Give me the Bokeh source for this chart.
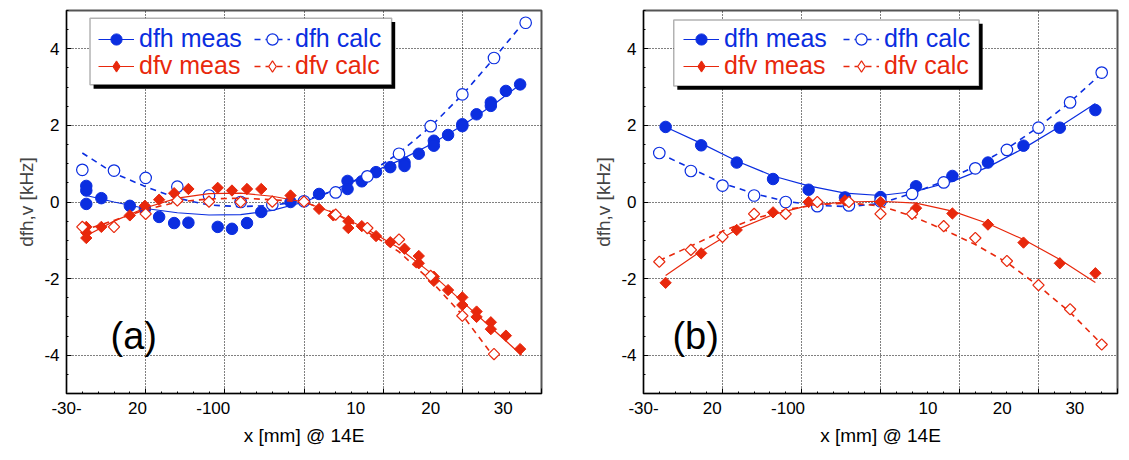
import numpy as np
from bokeh.plotting import figure
from bokeh.models import (Legend, LegendItem, BoxAnnotation, Label, LinearAxis,
                          FixedTicker, SingleIntervalTicker, Range1d, ColumnDataSource)
from bokeh.layouts import row
from bokeh.embed import file_html
from bokeh.resources import INLINE

# ---------------- data ----------------
# panel (a)
a_meas_x = [-27.5, -27.5, -27.5, -25.6, -22.0, -20.1, -18.3, -16.4, -14.6, -10.9, -9.1, -7.2,
            -5.4, -1.7, 1.9, 5.5, 5.5, 7.3, 9.1, 10.9, 12.7, 12.7, 14.5, 16.4, 16.4, 18.2,
            20.0, 20.0, 21.8, 23.6, 23.6, 25.5, 27.3]
a_dfh_meas = [0.42, 0.30, -0.05, 0.10, -0.10, -0.18, -0.39, -0.55, -0.54, -0.65, -0.70, -0.55,
              -0.26, 0.0, 0.21, 0.55, 0.34, 0.54, 0.78, 0.91, 1.03, 0.94, 1.26, 1.60, 1.47, 1.75,
              2.03, 1.98, 2.29, 2.60, 2.51, 2.90, 3.07]
a_dfv_x = [-27.5, -27.5, -27.5, -25.6, -22.0, -20.1, -18.3, -16.4, -14.6, -10.9, -9.1, -7.2,
           -5.4, -1.7, 1.9, 3.7, 5.6, 5.6, 7.3, 9.1, 10.9, 12.7, 14.5, 14.5, 16.4, 16.4, 18.2,
           20.0, 20.0, 21.8, 21.8, 23.6, 23.6, 25.5, 27.3]
a_dfv_meas = [-0.65, -0.80, -0.94, -0.65, -0.35, -0.10, 0.06, 0.23, 0.34, 0.37, 0.30, 0.34,
              0.34, 0.17, -0.18, -0.35, -0.50, -0.68, -0.63, -0.89, -1.05, -1.22, -1.41, -1.60,
              -1.95, -2.06, -2.30, -2.49, -2.69, -2.86, -3.00, -3.14, -3.32, -3.49, -3.84]
a_calc_x = [-28, -24, -20, -16, -12, -8, -4, 0, 4, 8, 12, 16, 20, 24, 28]
a_dfh_calc = [0.84, 0.82, 0.63, 0.40, 0.17, 0.0, -0.07, 0.02, 0.25, 0.67, 1.26, 1.98, 2.81, 3.76, 4.68]
a_dfv_calc_x = [-28, -24, -20, -16, -12, -8, -4, 0, 4, 8, 12, 16, 20, 24]
a_dfv_calc = [-0.65, -0.65, -0.31, 0.04, 0.01, 0.0, 0.01, 0.01, -0.33, -0.68, -0.98, -1.93, -2.97, -3.97]

# fitted curves, panel (a)
a_fit_meas_x = [-27.5, -24, -20, -16, -12, -8, -4, 0, 4, 8, 12, 16, 20, 24, 27.5]
a_fit_dfh_meas = [0.17, 0.0, -0.17, -0.28, -0.34, -0.33, -0.22, 0.0, 0.33, 0.72, 1.08, 1.5, 2.0, 2.55, 3.1]
a_fit_dfv_meas = [-0.88, -0.5, -0.15, 0.1, 0.22, 0.23, 0.15, 0.0, -0.3, -0.72, -1.2, -1.85, -2.6, -3.35, -4.0]
a_fit_dfh_calc_x = [-28, -24, -20, -16, -12, -8, -4, 0, 4, 8, 12, 16, 20, 24, 28]
a_fit_dfh_calc = [1.28, 0.75, 0.4, 0.1, -0.08, -0.12, -0.09, 0.04, 0.3, 0.72, 1.28, 1.97, 2.8, 3.75, 4.75]
a_fit_dfv_calc_x = [-28, -24, -20, -16, -12, -8, -4, 0, 4, 8, 12, 16, 20, 24]
a_fit_dfv_calc = [-0.75, -0.48, -0.2, 0.0, 0.08, 0.1, 0.06, 0.0, -0.3, -0.78, -1.3, -2.05, -2.95, -4.05]

# panel (b)
b_meas_x = [-27.2, -22.7, -18.2, -13.6, -9.1, -4.5, 0.0, 4.5, 9.1, 13.6, 18.1, 22.7, 27.2]
b_dfh_meas = [1.96, 1.48, 1.03, 0.60, 0.32, 0.12, 0.13, 0.41, 0.68, 1.03, 1.47, 1.94, 2.40]
b_dfv_meas = [-2.11, -1.34, -0.73, -0.27, 0.0, 0.04, 0.0, -0.16, -0.30, -0.59, -1.06, -1.60, -1.86]
b_calc_x = [-28, -24, -20, -16, -12, -8, -4, 0, 4, 8, 12, 16, 20, 24, 28]
b_dfh_calc = [1.28, 0.81, 0.43, 0.17, 0.0, -0.11, -0.09, 0.02, 0.21, 0.51, 0.88, 1.36, 1.94, 2.60, 3.38]
b_dfv_calc = [-1.56, -1.25, -0.91, -0.31, -0.31, 0.0, 0.0, -0.31, -0.31, -0.63, -0.94, -1.54, -2.17, -2.80, -3.72]

# fitted curves, panel (b)
b_fit_dfh_meas = [1.96, 1.53, 1.07, 0.68, 0.42, 0.23, 0.17, 0.28, 0.54, 0.91, 1.40, 1.97, 2.57]
b_fit_dfv_meas = [-1.92, -1.28, -0.72, -0.33, -0.09, 0.0, 0.02, -0.03, -0.24, -0.56, -0.98, -1.50, -2.10]
b_fit_dfh_calc = [1.27, 0.88, 0.49, 0.22, 0.02, -0.09, -0.12, -0.04, 0.23, 0.54, 0.93, 1.39, 1.96, 2.61, 3.36]
b_fit_dfv_calc = [-1.53, -1.15, -0.76, -0.44, -0.2, -0.07, -0.03, -0.1, -0.37, -0.72, -1.11, -1.58, -2.19, -2.88, -3.71]

# axis texts
x_tick_labels = ["-30-", "20", "-100", "10", "20", "30"]
a_x_label_pos = [-29.99, -21.03, -11.46, 6.54, 16.02, 25.17]
b_x_label_pos = [-29.99, -21.3, -11.7, 6.0, 15.4, 24.6]
y_ticks = [-4, -2, 0, 2, 4]
y_tick_labels = ["-4", "-2", "0", "2", "4"]
series_labels = ["dfh meas", "dfh calc", "dfv meas", "dfv calc"]

# ---------------- styling ----------------
BLUE = "#0b2ee0"
RED = "#e8280c"
FONT = "Liberation Sans"
H = 460


def make_panel(tag, W, left_border, right_border, xlab_pos, series, legend_x, spacing, box):
    p = figure(width=W, height=H, x_range=Range1d(-30, 30), y_range=Range1d(-5, 5),
               output_backend="svg", toolbar_location=None,
               min_border_left=left_border, min_border_right=right_border,
               min_border_top=10, min_border_bottom=67)
    p.background_fill_color = "white"
    p.border_fill_color = "white"
    p.outline_line_color = "#555555"
    p.outline_line_width = 2

    # tick-only axis below
    ax = p.xaxis[0]
    ax.ticker = SingleIntervalTicker(interval=10, num_minor_ticks=5)
    ax.major_label_overrides = {v: "" for v in range(-30, 31, 10)}
    ax.major_label_text_font_size = "1px"
    ax.major_label_standoff = 0
    ax.major_tick_in = 5
    ax.major_tick_out = 0
    ax.minor_tick_in = 2
    ax.minor_tick_out = 0
    ax.axis_line_color = "black"

    # label axis
    lab = LinearAxis(ticker=FixedTicker(ticks=xlab_pos),
                     major_label_overrides=dict(zip(xlab_pos, x_tick_labels)),
                     axis_line_color=None, major_tick_line_color=None,
                     minor_tick_line_color=None, major_tick_in=0, major_tick_out=0,
                     minor_tick_in=0, minor_tick_out=0, major_label_standoff=8,
                     major_label_text_font=FONT, major_label_text_font_size="17px",
                     major_label_text_color="black",
                     axis_label="x [mm] @ 14E", axis_label_text_font=FONT,
                     axis_label_text_font_size="19px", axis_label_text_font_style="normal",
                     axis_label_standoff=8, axis_label_text_color="black")
    p.add_layout(lab, "below")

    ay = p.yaxis[0]
    ay.ticker = SingleIntervalTicker(interval=2, num_minor_ticks=4)
    ay.major_label_overrides = dict(zip(y_ticks, y_tick_labels))
    ay.major_tick_in = 5
    ay.major_tick_out = 0
    ay.minor_tick_in = 2
    ay.minor_tick_out = 0
    ay.major_label_standoff = 7
    ay.major_label_text_font = FONT
    ay.major_label_text_font_size = "17px"
    ay.major_label_text_color = "black"
    ay.axis_label = "dfh,v [kHz]"
    ay.axis_label_text_font = FONT
    ay.axis_label_text_font_size = "19px"
    ay.axis_label_text_font_style = "normal"
    ay.axis_label_standoff = 4
    ay.axis_line_color = "black"

    p.xgrid.ticker = FixedTicker(ticks=[-20, -10, 0, 10, 20])
    p.ygrid.ticker = FixedTicker(ticks=[-4, -2, 0, 2, 4])
    for g in (p.xgrid[0], p.ygrid[0]):
        g.grid_line_color = "black"
        g.grid_line_dash = "1 2"
        g.grid_line_width = 1
        g.grid_line_alpha = 1.0

    (fx1, fy1, px1, py1), (fx2, fy2, px2, py2), (fx3, fy3, px3, py3), (fx4, fy4, px4, py4) = series

    l1 = p.line(fx1, fy1, line_color=BLUE, line_width=1.2)
    s1 = p.scatter(px1, py1, marker="circle", size=11.5, fill_color=BLUE, line_color=BLUE)
    l2 = p.line(fx2, fy2, line_color=BLUE, line_width=1.6, line_dash="6 5")
    s2 = p.scatter(px2, py2, marker="circle", size=11.5, fill_color="white",
                   line_color=BLUE, line_width=1.2)
    l3 = p.line(fx3, fy3, line_color=RED, line_width=1.2)
    src3 = ColumnDataSource(dict(x=px3, y=py3))
    s3 = p.scatter("x", "y", source=src3, marker="square", angle=np.pi / 4, size=8,
                   fill_color=RED, line_color=RED)
    l4 = p.line(fx4, fy4, line_color=RED, line_width=1.6, line_dash="6 5")
    src4 = ColumnDataSource(dict(x=px4, y=py4))
    s4 = p.scatter("x", "y", source=src4, marker="square", angle=np.pi / 4, size=8,
                   fill_color="white", line_color=RED, line_width=1.2)
    # legend-only diamond glyphs (the legend ignores the marker rotation); hidden in the plot
    d3 = p.scatter("x", "y", source=src3, marker="diamond", fill_color=RED, line_color=RED,
                   visible=False)
    d4 = p.scatter("x", "y", source=src4, marker="diamond", fill_color="white",
                   line_color=RED, line_width=1.2, visible=False)

    bl, br, bt, bb = box
    p.add_layout(BoxAnnotation(left=bl + 0.45, right=br + 0.45, top=bt - 0.1, bottom=bb - 0.1,
                               fill_color="black", fill_alpha=1, line_color=None))
    p.add_layout(BoxAnnotation(left=bl, right=br, top=bt, bottom=bb,
                               fill_color="white", fill_alpha=1, line_color="black",
                               line_width=1.5))

    common = dict(orientation="horizontal", background_fill_alpha=0, border_line_color=None,
                  padding=0, margin=0, spacing=spacing, glyph_width=36, label_standoff=5,
                  label_width=108, label_text_font=FONT, label_text_font_size="25px",
                  label_text_baseline="middle", click_policy="none")
    leg1 = Legend(items=[LegendItem(label=series_labels[0], renderers=[l1, s1]),
                         LegendItem(label=series_labels[1], renderers=[l2, s2])],
                  location=(legend_x, 340), glyph_height=28, label_text_color=BLUE, **common)
    leg2 = Legend(items=[LegendItem(label=series_labels[2], renderers=[l3, d3]),
                         LegendItem(label=series_labels[3], renderers=[l4, d4])],
                  location=(legend_x, 313), glyph_height=28, label_text_color=RED, **common)
    p.add_layout(leg1, "center")
    p.add_layout(leg2, "center")

    p.add_layout(Label(x=tag[1], y=-3.5, text=tag[0], text_font=FONT, text_font_size="38px",
                       text_align="center", text_baseline="middle", text_color="black"))
    return p


pa = make_panel(("(a)", -21.5), 585, 66, 44, a_x_label_pos,
                [(a_fit_meas_x, a_fit_dfh_meas, a_meas_x, a_dfh_meas),
                 (a_fit_dfh_calc_x, a_fit_dfh_calc, a_calc_x, a_dfh_calc),
                 (a_fit_meas_x, a_fit_dfv_meas, a_dfv_x, a_dfv_meas),
                 (a_fit_dfv_calc_x, a_fit_dfv_calc, a_dfv_calc_x, a_dfv_calc)],
                32, 7, (-27.03, 11.07, 4.80, 3.06))
pb = make_panel(("(b)", -23.4), 544, 58, 12, b_x_label_pos,
                [(b_meas_x, b_fit_dfh_meas, b_meas_x, b_dfh_meas),
                 (b_calc_x, b_fit_dfh_calc, b_calc_x, b_dfh_calc),
                 (b_meas_x, b_fit_dfv_meas, b_meas_x, b_dfv_meas),
                 (b_calc_x, b_fit_dfv_calc, b_calc_x, b_dfv_calc)],
                40, 11, (-26.17, 12.48, 4.755, 3.03))

layout = row(pa, pb)
open("out.html", "w").write(file_html(layout, INLINE))
